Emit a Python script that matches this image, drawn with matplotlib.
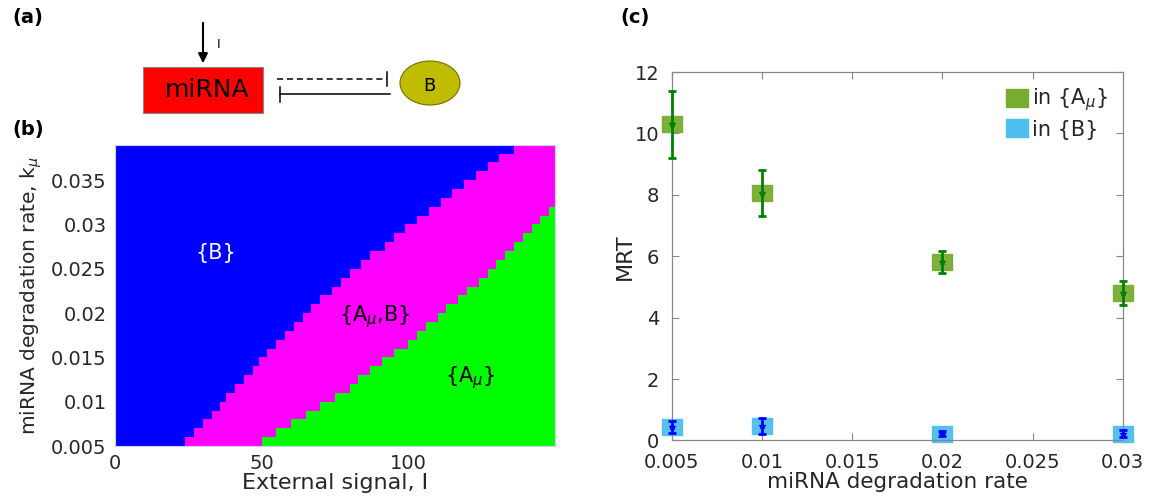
import numpy as np
import matplotlib.pyplot as plt
from matplotlib.colors import ListedColormap
from matplotlib.patches import Rectangle, Ellipse
from matplotlib.lines import Line2D

plt.rcParams['font.family'] = ['DejaVu Sans']
plt.rcParams['mathtext.fontset'] = 'dejavusans'

# (b) phase diagram: per row of k_mu, the signal I where {B} ends and where {A_mu} begins
k_lo, k_hi = 0.005, 0.039
I_max = 150
b_edge = [24, 27, 30, 33, 36, 38, 41, 44, 47, 49, 52, 55, 58, 61, 64, 67, 70,
          74, 77, 80, 84, 87, 92, 95, 99, 103, 107, 111, 115, 119, 123, 127, 131, 136]
g_edge = [50, 55, 60, 65, 70, 75, 80, 83, 87, 91, 95, 100, 103, 106, 110, 113, 117,
          120, 124, 127, 130, 133, 136, 139, 142, 145, 148, 150, 150, 150, 150, 150, 150, 150]
region_names = ['{B}', '{A$_{\\mu}$,B}', '{A$_{\\mu}$}']
region_colors = ['#0000ff', '#ff00ff', '#00ff00']
b_yticks = [0.005, 0.01, 0.015, 0.02, 0.025, 0.03, 0.035]
b_xticks = [0, 50, 100]

# (c) mean residence time vs miRNA degradation rate
rate = [0.005, 0.01, 0.02, 0.03]
mrt_A = [10.3, 8.05, 5.82, 4.81]
mrt_A_lo = [9.2, 7.3, 5.46, 4.41]
mrt_A_hi = [11.38, 8.8, 6.18, 5.2]
mrt_B = [0.45, 0.48, 0.22, 0.22]
mrt_B_lo = [0.25, 0.22, 0.15, 0.1]
mrt_B_hi = [0.65, 0.72, 0.3, 0.35]
c_xticks = [0.005, 0.01, 0.015, 0.02, 0.025, 0.03]
c_yticks = [0, 2, 4, 6, 8, 10, 12]

W, H = 1153, 497
fig = plt.figure(figsize=(W / 100, H / 100), dpi=100)
txt = '#262626'

# ---- (a) schematic, drawn in pixel coordinates of the figure
ax0 = fig.add_axes([0, 0, 1, 1])
ax0.set_xlim(0, W)
ax0.set_ylim(H, 0)
ax0.axis('off')
ax0.add_patch(Rectangle((143, 67), 120, 46, facecolor='#ff0000', edgecolor='#888888', lw=0.8))
ax0.text(207, 90, 'miRNA', ha='center', va='center', fontsize=18)
ax0.annotate('', xy=(203, 66), xytext=(203, 20),
             arrowprops=dict(arrowstyle='-|>', color='k', lw=1.5, mutation_scale=14))
ax0.text(219, 44, 'I', ha='center', va='center', fontsize=9)
ax0.plot([277, 387], [79, 79], color='k', lw=1.1, ls=(0, (4, 2.5)))
ax0.plot([387, 387], [72, 86], color='k', lw=1.1)
ax0.plot([280, 390], [94, 94], color='k', lw=1.1)
ax0.plot([280, 280], [87, 102], color='k', lw=1.1)
ax0.add_patch(Ellipse((430, 83), 60, 44, facecolor='#c0bc00', edgecolor='#6e6e00', lw=0.8))
ax0.text(429, 86, 'B', ha='center', va='center', fontsize=13)
ax0.text(12, 18, '(a)', fontsize=14, fontweight='bold', va='center')
ax0.text(12, 130, '(b)', fontsize=14, fontweight='bold', va='center')
ax0.text(620, 18, '(c)', fontsize=14, fontweight='bold', va='center')

# ---- (b) phase diagram
ax1 = fig.add_axes([0.0995, 0.1026, 0.3819, 0.6062])
I_edges = np.arange(0, I_max + 1)
k_edges = np.linspace(k_lo, k_hi, len(b_edge) + 1)
I_mid = I_edges[:-1] + 0.5
be = np.array(b_edge)[:, None]
ge = np.array(g_edge)[:, None]
region = np.where(I_mid[None, :] < be, 0, np.where(I_mid[None, :] < ge, 1, 2))
ax1.pcolormesh(I_edges, k_edges, region, cmap=ListedColormap(region_colors),
               vmin=-0.5, vmax=2.5, shading='flat')
ax1.set_xlim(0, I_max)
ax1.set_ylim(k_lo, k_hi)
ax1.set_xticks(b_xticks)
ax1.set_yticks(b_yticks)
ax1.set_yticklabels([f'{v:g}' for v in b_yticks])
ax1.tick_params(direction='in', length=0, labelsize=14, labelcolor=txt, pad=6)
for s in ax1.spines.values():
    s.set_color('#d0d0ff')
    s.set_linewidth(0.8)
ax1.set_xlabel('External signal, I', fontsize=16, color=txt, labelpad=0)
ax1.set_ylabel('miRNA degradation rate, k$_{\\mu}$', fontsize=14.5, color=txt, labelpad=5)
ax1.text(34.5, 0.0268, region_names[0], color='white', fontsize=15, ha='center', va='center')
ax1.text(88.7, 0.0196, region_names[1], color='black', fontsize=15, ha='center', va='center')
ax1.text(121, 0.0127, region_names[2], color='black', fontsize=15, ha='center', va='center')

# ---- (c) MRT vs degradation rate
ax2 = fig.add_axes([0.5828, 0.1137, 0.3909, 0.7414])
rect = [(-1, -0.79), (1, -0.79), (1, 0.79), (-1, 0.79), (-1, -0.79)]
green, green_e = '#77ac30', '#008000'
blue, blue_e = '#4dbeee', '#0000ff'
ax2.plot(rate, mrt_A, ls='none', marker=rect, ms=13.7, mfc=green, mec=green, alpha=0.95,
         zorder=2, clip_on=False)
ax2.plot(rate, mrt_B, ls='none', marker=rect, ms=13.7, mfc=blue, mec=blue, alpha=0.95,
         zorder=2, clip_on=False)
for y, lo, hi, c in [(mrt_A, mrt_A_lo, mrt_A_hi, green_e), (mrt_B, mrt_B_lo, mrt_B_hi, blue_e)]:
    eb = ax2.errorbar(rate, y, yerr=[np.subtract(y, lo), np.subtract(hi, y)],
                      fmt='*', ms=4, color=c, ecolor=c, elinewidth=2, capsize=3,
                      capthick=2, zorder=3)
    for art in eb.lines[1] + eb.lines[2]:
        art.set_clip_on(False)
    eb.lines[0].set_clip_on(False)
ax2.set_xlim(0.005, 0.03)
ax2.set_ylim(0, 12)
ax2.set_xticks(c_xticks)
ax2.set_xticklabels([f'{v:g}' for v in c_xticks])
ax2.set_yticks(c_yticks)
ax2.tick_params(direction='in', length=5, width=0.8, color='#888888', labelsize=14,
                labelcolor=txt, top=True, right=True)
ax2.tick_params(axis='y', pad=9)
ax2.tick_params(axis='x', pad=9)
for s in ax2.spines.values():
    s.set_color('#888888')
    s.set_linewidth(0.9)
ax2.set_xlabel('miRNA degradation rate', fontsize=15.5, color=txt, labelpad=0)
ax2.set_ylabel('MRT', fontsize=16, color=txt, labelpad=0)
handles = [Line2D([], [], ls='none', marker=rect, ms=16, mfc=green, mec=green),
           Line2D([], [], ls='none', marker=rect, ms=16, mfc=blue, mec=blue)]
ax2.legend(handles, ['in {A$_{\\mu}$}', 'in {B}'], loc='upper right', frameon=False,
           fontsize=15, handletextpad=0.1, handlelength=1.2, labelspacing=0.3,
           borderaxespad=0.3, labelcolor=txt)

fig.savefig('out.png', dpi=100)
